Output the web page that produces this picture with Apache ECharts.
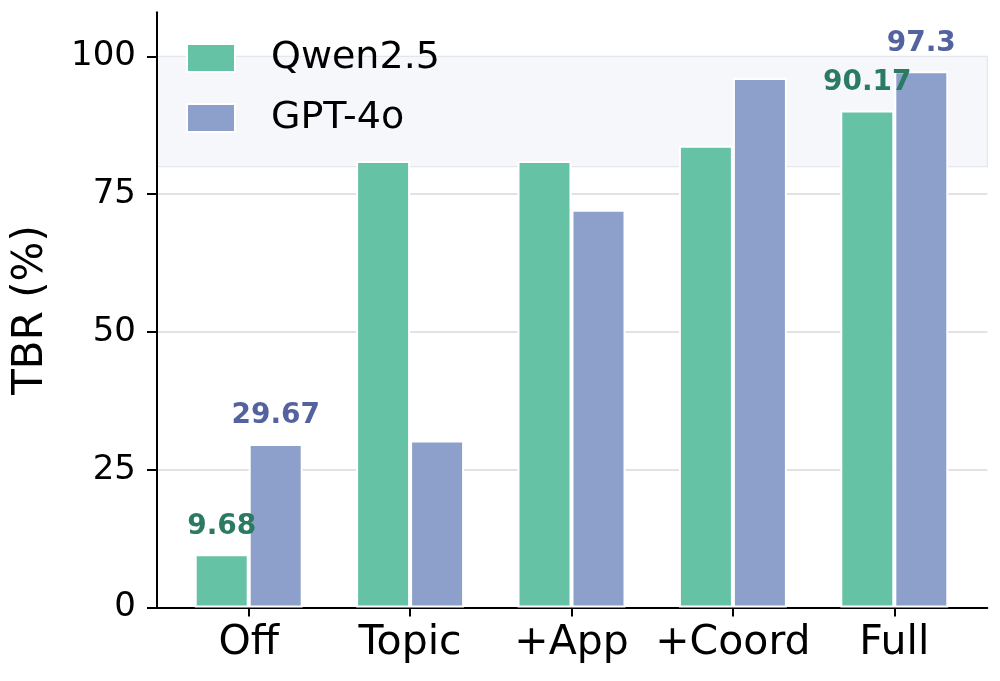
<!DOCTYPE html>
<html>
<head>
<meta charset="utf-8">
<script src="https://cdn.jsdelivr.net/npm/echarts@6/dist/echarts.min.js"></script>
<style>
html,body{margin:0;padding:0;background:#fff;}
#chart{width:1000px;height:681px;}
</style>
</head>
<body>
<div id="chart"></div>
<script>
const categories = ['Off', 'Topic', '+App', '+Coord', 'Full'];
const qwenValues = [9.68, 81.0, 81.0, 83.8, 90.17];
const gptValues = [29.67, 30.3, 72.2, 96.1, 97.3];
const seriesNames = ['Qwen2.5', 'GPT-4o'];
const labeledCategories = ['Off', 'Full'];
const yTicks = [0, 25, 50, 75, 100];
const bandRange = [80, 100];
const yAxisMax = 108;

const FONT = 'DejaVu Sans';
const chart = echarts.init(document.getElementById('chart'), null, {renderer: 'canvas'});

function barLabel(color) {
  return {
    show: true,
    position: 'top',
    distance: 14,
    fontFamily: FONT,
    fontSize: 28,
    fontWeight: 'bold',
    color: color,
    formatter: p => labeledCategories.indexOf(p.name) >= 0 ? String(p.value) : ''
  };
}

const option = {
  animation: false,
  backgroundColor: '#ffffff',
  legend: {
    data: seriesNames,
    orient: 'vertical',
    left: 186,
    top: 39,
    padding: 0,
    itemWidth: 48,
    itemHeight: 28,
    itemGap: 22,
    icon: 'rect',
    z: 6,
    itemStyle: {borderColor: '#ffffff', borderWidth: 2},
    textStyle: {fontFamily: FONT, fontSize: 38, color: '#000', padding: [0, 0, 0, 31]}
  },
  grid: [
    {left: 157, right: 12.7, top: 12.3, bottom: 73.4},
    {left: 157, right: 12.7, top: 56.4, bottom: 73.4},
    {left: 168, right: 25, top: 12.3, bottom: 73.4}
  ],
  xAxis: [
    {gridIndex: 0, type: 'value', min: 0, max: 1,
      axisLine: {show: true, lineStyle: {color: '#000', width: 2}},
      axisTick: {show: false}, axisLabel: {show: false}, splitLine: {show: false}},
    {gridIndex: 1, type: 'value', min: 0, max: 1, show: false},
    {gridIndex: 2, type: 'category', data: categories,
      axisLine: {show: false},
      axisTick: {show: true, alignWithLabel: true, interval: 0, length: 9, lineStyle: {color: '#000', width: 2}},
      axisLabel: {interval: 0, fontFamily: FONT, fontSize: 41, color: '#000', margin: 15},
      splitLine: {show: false}}
  ],
  yAxis: [
    {gridIndex: 0, type: 'value', min: 0, max: yAxisMax, z: 5,
      name: 'TBR (%)', nameLocation: 'middle', nameGap: 105, nameRotate: 90,
      nameTextStyle: {fontFamily: FONT, fontSize: 42, color: '#000'},
      axisLine: {show: true, lineStyle: {color: '#000', width: 2}},
      axisTick: {show: false}, axisLabel: {show: false}, splitLine: {show: false}},
    {gridIndex: 1, type: 'value', min: yTicks[0], max: yTicks[yTicks.length - 1], interval: 25, z: 0,
      axisLine: {show: false},
      axisTick: {show: true, length: 10, lineStyle: {color: '#000', width: 2}},
      axisLabel: {fontFamily: FONT, fontSize: 34, color: '#000', margin: 21},
      splitLine: {show: true, lineStyle: {color: '#d9d9d9', width: 1.5}}},
    {gridIndex: 2, type: 'value', min: 0, max: yAxisMax, show: false}
  ],
  series: [
    {
      type: 'line', xAxisIndex: 1, yAxisIndex: 1, data: [[0, 0]], symbol: 'none',
      lineStyle: {opacity: 0}, silent: true, z: 1, legendHoverLink: false,
      markArea: {
        silent: true,
        itemStyle: {color: '#f5f7fb', borderColor: '#e3e6ee', borderWidth: 1.2},
        data: [[{yAxis: bandRange[0]}, {yAxis: bandRange[1]}]]
      }
    },
    {
      name: seriesNames[0], type: 'bar', xAxisIndex: 2, yAxisIndex: 2,
      data: qwenValues, barWidth: 54, barGap: '0%', z: 3,
      itemStyle: {color: '#66c2a5', borderColor: '#ffffff', borderWidth: 2},
      label: barLabel('#2b7a62')
    },
    {
      name: seriesNames[1], type: 'bar', xAxisIndex: 2, yAxisIndex: 2,
      data: gptValues, barWidth: 54, barGap: '0%', z: 3,
      itemStyle: {color: '#8da0cb', borderColor: '#ffffff', borderWidth: 2},
      label: barLabel('#5462a0')
    }
  ]
};
chart.setOption(option);
</script>
</body>
</html>
